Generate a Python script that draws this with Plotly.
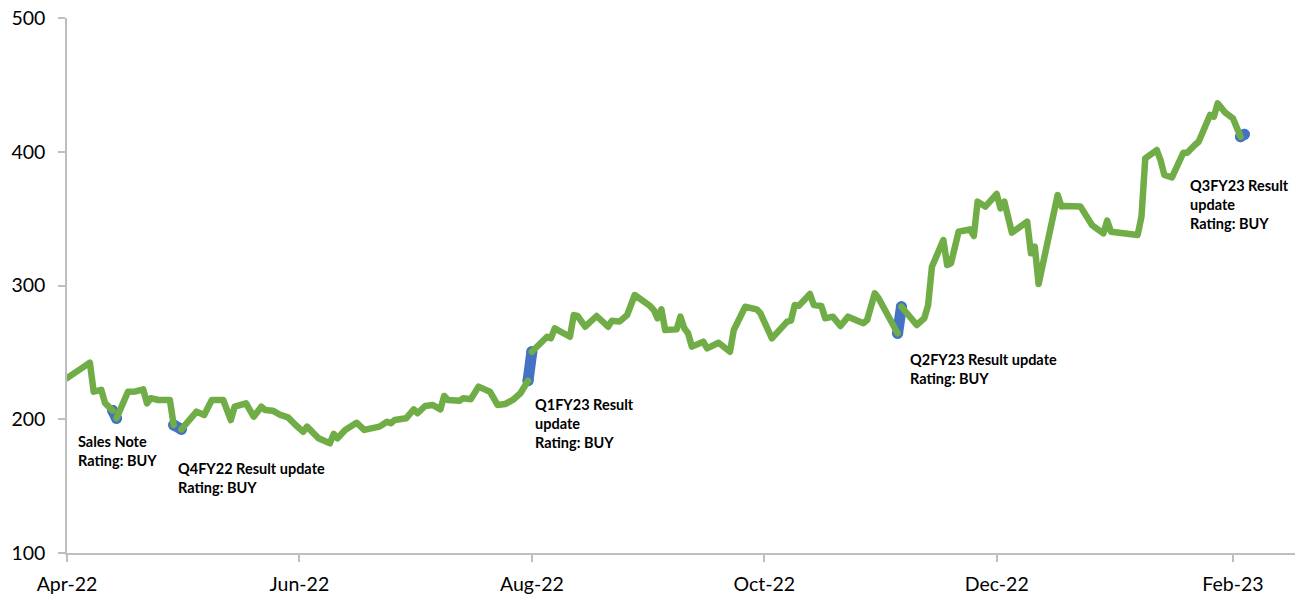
import plotly.graph_objects as go

# Daily closing price (INR)
price_dates = [
    "2022-04-01", "2022-04-07", "2022-04-08", "2022-04-10", "2022-04-11", "2022-04-12",
    "2022-04-13", "2022-04-14", "2022-04-17", "2022-04-19", "2022-04-21", "2022-04-22",
    "2022-04-23", "2022-04-25", "2022-04-28", "2022-04-29", "2022-05-01", "2022-05-05",
    "2022-05-07", "2022-05-09", "2022-05-12", "2022-05-14", "2022-05-15", "2022-05-18",
    "2022-05-20", "2022-05-22", "2022-05-23", "2022-05-25", "2022-05-27", "2022-05-29",
    "2022-05-31", "2022-06-02", "2022-06-03", "2022-06-06", "2022-06-09", "2022-06-10",
    "2022-06-11", "2022-06-13", "2022-06-16", "2022-06-18", "2022-06-22", "2022-06-24",
    "2022-06-25", "2022-06-26", "2022-06-29", "2022-07-01", "2022-07-02", "2022-07-04",
    "2022-07-06", "2022-07-08", "2022-07-09", "2022-07-10", "2022-07-13", "2022-07-14",
    "2022-07-16", "2022-07-18", "2022-07-21", "2022-07-23", "2022-07-25", "2022-07-27",
    "2022-07-29", "2022-07-31", "2022-08-01", "2022-08-04", "2022-08-05", "2022-08-06",
    "2022-08-07", "2022-08-11", "2022-08-12", "2022-08-13", "2022-08-15", "2022-08-18",
    "2022-08-21", "2022-08-22", "2022-08-24", "2022-08-26", "2022-08-28", "2022-09-01",
    "2022-09-02", "2022-09-03", "2022-09-04", "2022-09-05", "2022-09-08", "2022-09-09",
    "2022-09-10", "2022-09-11", "2022-09-12", "2022-09-15", "2022-09-16", "2022-09-19",
    "2022-09-22", "2022-09-23", "2022-09-26", "2022-09-29", "2022-09-30", "2022-10-03",
    "2022-10-07", "2022-10-08", "2022-10-09", "2022-10-10", "2022-10-13", "2022-10-14",
    "2022-10-16", "2022-10-17", "2022-10-19", "2022-10-21", "2022-10-23", "2022-10-27",
    "2022-10-28", "2022-10-30", "2022-10-31", "2022-11-05", "2022-11-06", "2022-11-10",
    "2022-11-12", "2022-11-13", "2022-11-14", "2022-11-17", "2022-11-18", "2022-11-19",
    "2022-11-21", "2022-11-24", "2022-11-25", "2022-11-26", "2022-11-28", "2022-12-01",
    "2022-12-02", "2022-12-03", "2022-12-05", "2022-12-09", "2022-12-10", "2022-12-11",
    "2022-12-12", "2022-12-15", "2022-12-17", "2022-12-18", "2022-12-19", "2022-12-23",
    "2022-12-26", "2022-12-29", "2022-12-30", "2022-12-31", "2023-01-07", "2023-01-08",
    "2023-01-09", "2023-01-12", "2023-01-13", "2023-01-14", "2023-01-16", "2023-01-19",
    "2023-01-20", "2023-01-22", "2023-01-23", "2023-01-26", "2023-01-27", "2023-01-28",
    "2023-01-30", "2023-02-01", "2023-02-03", "2023-02-04",
]
price_values = [
    230.8, 242.3, 220.6, 222.0, 212.0, 209.5,
    206.5, 200.7, 220.6, 220.8, 222.4, 211.9,
    215.7, 214.4, 214.4, 195.7, 192.5, 205.7,
    203.2, 214.4, 214.4, 199.4, 209.4, 211.9,
    201.9, 209.4, 206.9, 206.4, 203.2, 201.4,
    195.7, 190.7, 194.5, 185.8, 182.0, 189.0,
    185.8, 192.0, 197.4, 192.0, 194.5, 198.2,
    197.0, 199.4, 200.7, 207.4, 204.5, 209.9,
    210.7, 207.4, 217.4, 214.4, 213.9, 215.7,
    215.0, 224.4, 220.6, 210.7, 211.4, 214.4,
    219.4, 228.8, 250.5, 258.0, 261.7, 260.5,
    268.0, 261.7, 277.9, 277.2, 269.2, 277.2,
    269.2, 273.7, 273.0, 277.9, 292.9, 284.7,
    281.7, 275.5, 282.2, 266.7, 267.2, 276.7,
    268.0, 264.3, 254.3, 258.0, 253.0, 257.2,
    250.5, 266.7, 284.1, 282.2, 279.2, 260.5,
    273.0, 273.7, 285.4, 284.7, 293.6, 285.4,
    284.7, 275.5, 276.7, 269.7, 276.7, 271.8,
    274.2, 294.2, 290.5, 264.3, 284.1, 270.5,
    275.5, 285.4, 314.0, 334.0, 315.3, 316.6,
    340.2, 342.0, 337.0, 362.7, 359.0, 368.4,
    357.7, 362.7, 339.5, 347.8, 324.1, 329.1,
    301.1, 342.8, 367.7, 359.0, 359.4, 359.0,
    345.2, 339.0, 348.5, 340.2, 337.8, 351.5,
    395.1, 401.3, 393.8, 382.6, 380.8, 399.3,
    399.3, 405.0, 407.5, 427.5, 426.2, 436.2,
    429.2, 425.0, 411.3, 413.0,
]

# Research reports: price move around each report date
event_start_dates = ["2022-04-13", "2022-04-29", "2022-07-31", "2022-11-05", "2023-02-03"]
event_end_dates = ["2022-04-14", "2022-05-01", "2022-08-01", "2022-11-06", "2023-02-04"]
event_labels = [
    "Sales Note<br>Rating: BUY",
    "Q4FY22 Result update<br>Rating: BUY",
    "Q1FY23 Result<br>update<br>Rating: BUY",
    "Q2FY23 Result update<br>Rating: BUY",
    "Q3FY23 Result<br>update<br>Rating: BUY",
]

GREEN = "#70AD47"
BLUE = "#4472C4"
AXIS_GREY = "#BFBFBF"
FONT = "Lato, 'Open Sans', sans-serif"

price_lookup = dict(zip(price_dates, price_values))
event_pairs = set(zip(event_start_dates, event_end_dates))

# Price line, interrupted over the report-day moves (those are drawn in blue)
green_x, green_y = [], []
for i, (d, v) in enumerate(zip(price_dates, price_values)):
    if i > 0 and (price_dates[i - 1], d) in event_pairs:
        green_x.append(d)
        green_y.append(None)
    green_x.append(d)
    green_y.append(v)
# drop a trailing point that only belongs to a report segment
if len(green_y) >= 2 and green_y[-2] is None:
    green_x = green_x[:-2]
    green_y = green_y[:-2]

# Report-day segments
blue_x, blue_y = [], []
for s, e in zip(event_start_dates, event_end_dates):
    blue_x += [s, e, None]
    blue_y += [price_lookup[s], price_lookup[e], None]

fig = go.Figure()
fig.add_trace(go.Scatter(
    x=blue_x, y=blue_y, mode="lines+markers",
    line=dict(color=BLUE, width=11),
    marker=dict(color=BLUE, size=11, line=dict(width=0)),
    connectgaps=False, hoverinfo="skip", showlegend=False,
))
fig.add_trace(go.Scatter(
    x=green_x, y=green_y, mode="lines",
    line=dict(color=GREEN, width=6.5),
    connectgaps=False, showlegend=False,
))

# Report labels (left/top corner of each text block)
label_pos = [
    ("2022-04-03 10:00", 191.5),
    ("2022-04-29 14:00", 171.3),
    ("2022-08-01 08:00", 219.2),
    ("2022-11-07 18:00", 252.8),
    ("2023-01-20 06:00", 382.9),
]
for (x, y), text in zip(label_pos, event_labels):
    fig.add_annotation(
        x=x, y=y, xref="x", yref="y", text=text, showarrow=False,
        xanchor="left", yanchor="top", align="left",
        font=dict(family=FONT, size=14.5, color="#000000", weight="bold"),
    )

fig.update_layout(
    width=1300, height=599,
    margin=dict(l=67, r=5, t=18, b=46),
    paper_bgcolor="white", plot_bgcolor="white",
    font=dict(family=FONT, color="#000000"),
)
fig.update_xaxes(
    type="date",
    range=["2022-04-01", "2023-02-17 07:00"],
    dtick="M2", tick0="2022-04-01", tickformat="%b-%y",
    showgrid=False, zeroline=False,
    showline=True, linecolor=AXIS_GREY, linewidth=1.5,
    ticks="outside", ticklen=7, tickcolor=AXIS_GREY, tickwidth=1.5,
    tickfont=dict(family=FONT, size=19.5, color="#000000"),
    ticklabelstandoff=6,
)
fig.update_yaxes(
    range=[100, 500], dtick=100, tick0=100,
    showgrid=False, zeroline=False,
    showline=True, linecolor=AXIS_GREY, linewidth=1.5,
    ticks="outside", ticklen=7, tickcolor=AXIS_GREY, tickwidth=1.5,
    tickfont=dict(family=FONT, size=19.5, color="#000000"),
    ticklabelstandoff=9,
)

# round line joins and caps for the price and report lines
round_joins = """
var gd = document.getElementById('{plot_id}');
function roundLines() {
  gd.querySelectorAll('.scatterlayer path.js-line').forEach(function (p) {
    p.style.strokeLinejoin = 'round';
    p.style.strokeLinecap = 'round';
  });
}
roundLines();
gd.on('plotly_afterplot', roundLines);
"""

fig.write_html("out.html", post_script=round_joins)
